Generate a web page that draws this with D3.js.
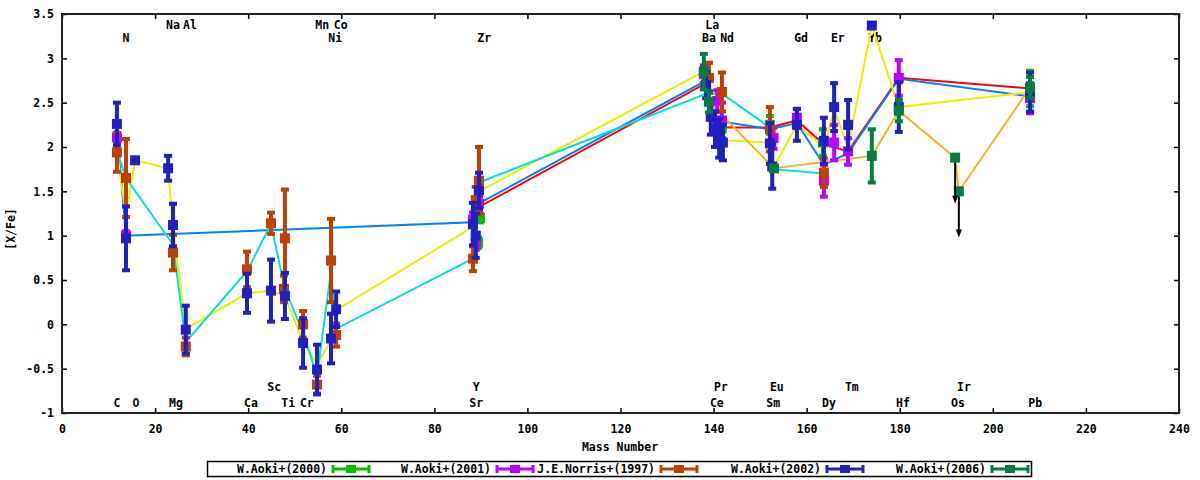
<!DOCTYPE html>
<html>
<head>
<meta charset="utf-8">
<script src="https://cdn.jsdelivr.net/npm/d3@7"></script>
<style>
  body { margin: 0; background: #fff; }
  text { font-family: "DejaVu Sans Mono", monospace; font-weight: bold; font-size: 11.5px; fill: #000; }
</style>
</head>
<body>
<div id="chart"></div>
<script>
// ---- data: [mass, [X/Fe], error] ----
const aoki2000 = [[89.8, 1.2, 0.05], [89.4, 0.92, 0.06], [141.8, 2.22, 0.05], [152.1, 2.25, 0.1],
    [163.5, 2.05, 0.15], [208.0, 2.66, 0.2]];
const aoki2001 = [[11.8, 2.11, 0.05], [13.75, 1.0, 0.05], [89.6, 1.36, 0.08], [88.3, 1.18, 0.08],
    [88.9, 0.92, 0.08], [137.9, 2.82, 0.1], [140.8, 2.52, 0.12], [141.8, 2.3, 0.2], [152.9, 2.1, 0.12],
    [157.9, 2.33, 0.1], [163.7, 1.62, 0.18], [165.9, 2.05, 0.2], [168.9, 1.95, 0.15],
    [179.8, 2.78, 0.2], [208.0, 2.55, 0.17]];
const norris1997 = [[11.8, 1.94, 0.22], [13.75, 1.65, 0.44], [23.85, 0.81, 0.2], [26.6, -0.25, 0.1],
    [39.75, 0.62, 0.2], [44.9, 1.14, 0.12], [47.9, 0.97, 0.55], [47.7, 0.4, 0.15], [51.8, 0.0, 0.15],
    [54.8, -0.68, 0.1], [57.8, 0.72, 0.47], [58.9, -0.12, 0.13], [88.3, 0.74, 0.14], [88.9, 1.4, 0.15],
    [89.6, 1.62, 0.38], [139.0, 2.78, 0.17], [141.8, 2.62, 0.22], [152.1, 2.2, 0.25], [163.7, 1.71, 0.16]];
const aoki2002 = [[11.8, 2.26, 0.24], [13.75, 0.97, 0.36], [15.7, 1.85, 0], [22.8, 1.76, 0.14],
    [23.85, 1.12, 0.24], [26.6, -0.06, 0.27], [39.75, 0.35, 0.22], [44.9, 0.38, 0.35], [47.9, 0.32, 0.26],
    [51.8, -0.21, 0.28], [54.8, -0.51, 0.28], [57.8, -0.16, 0.28], [58.9, 0.17, 0.2],
    [88.3, 1.13, 0.24], [88.9, 1.0, 0.25], [89.6, 1.51, 0.2],
    [138.4, 2.7, 0.15], [139.4, 2.34, 0.2], [140.3, 2.2, 0.2], [141.2, 2.1, 0.22], [142.0, 2.05, 0.2],
    [152.1, 2.04, 0.23], [152.6, 1.78, 0.25], [157.9, 2.25, 0.18], [163.7, 2.07, 0.26],
    [165.9, 2.45, 0.27], [168.9, 2.25, 0.28], [174.0, 3.37, 0], [179.8, 2.45, 0.28], [208.0, 2.62, 0.22]];
const aoki2006 = [[137.9, 2.85, 0.2], [139.0, 2.51, 0.12], [152.98, 1.76, 0], [174.0, 1.9, 0.3],
    [179.8, 2.41, 0.12], [208.0, 2.67, 0.12]];
// upper limits (Os, Ir)
const aoki2006Limits = [[191.9, 1.88], [192.7, 1.5]];

// ---- connecting lines: [mass, [X/Fe]] ----
const lineRed = [[89.8, 1.33], [138.4, 2.72], [140.3, 2.22], [152.1, 2.22], [157.9, 2.3], [163.7, 2.03],
    [168.9, 1.95], [179.8, 2.78], [208.0, 2.66]];
const lineBlue = [[11.8, 2.2], [13.75, 1.0], [88.3, 1.15], [89.8, 1.37], [138.4, 2.75], [140.3, 2.3],
    [152.1, 2.2], [157.9, 2.27], [163.7, 1.8], [168.9, 1.93], [179.8, 2.77], [208.0, 2.57]];
const lineYellow = [[11.8, 1.95], [13.75, 1.22], [15.7, 1.85], [22.8, 1.76], [23.85, 1.1], [26.6, -0.05],
    [39.75, 0.35], [44.9, 0.38], [47.9, 0.32], [51.8, -0.2], [54.8, -0.45], [57.8, -0.18], [58.9, 0.16],
    [88.3, 1.1], [89.6, 1.5], [137.9, 2.85], [140.3, 2.08], [152.1, 2.05], [152.98, 1.78], [157.9, 2.25],
    [163.7, 2.0], [165.9, 2.42], [168.9, 2.0], [174.0, 3.37], [179.8, 2.45], [208.0, 2.62]];
const lineCyan = [[11.8, 1.95], [13.75, 1.65], [23.85, 0.9], [26.6, -0.2], [39.75, 0.6], [44.9, 1.13],
    [47.9, 0.4], [51.8, -0.1], [54.8, -0.58], [57.8, 0.6], [58.9, -0.05], [88.3, 0.74], [89.6, 1.6],
    [138.4, 2.6], [141.8, 2.6], [152.1, 2.22], [153.0, 1.75], [163.7, 1.7]];
const lineOrange = [[139.0, 2.51], [152.98, 1.76], [163.7, 1.83], [174.0, 1.9], [179.8, 2.41],
    [191.9, 1.88], [192.7, 1.5], [208.0, 2.67]];

// ---- element labels: [name, mass] ----
const labelsTop1 = [["Na", 23.85], ["Al", 27.5], ["Mn", 55.9], ["Co", 59.9], ["La", 139.7]];
const labelsTop2 = [["N", 13.75], ["Ni", 58.7], ["Zr", 90.7], ["Ba", 139.0], ["Nd", 142.9], ["Gd", 158.8],
    ["Er", 166.7], ["Yb", 174.7]];
const labelsBot1 = [["Sc", 45.6], ["Y", 89.0], ["Pr", 141.6], ["Eu", 153.6], ["Tm", 169.7], ["Ir", 193.8]];
const labelsBot2 = [["C", 11.8], ["O", 15.9], ["Mg", 24.5], ["Ca", 40.6], ["Ti", 48.6], ["Cr", 52.6],
    ["Sr", 89.0], ["Ce", 140.7], ["Sm", 152.8], ["Dy", 164.8], ["Hf", 180.7], ["Os", 192.5], ["Pb", 209.1]];

const xTicks = d3.range(0, 241, 20);
const yTicks = [-1, -0.5, 0, 0.5, 1, 1.5, 2, 2.5, 3, 3.5];

const seriesNames = ["W.Aoki+(2000)", "W.Aoki+(2001)", "J.E.Norris+(1997)", "W.Aoki+(2002)", "W.Aoki+(2006)"];
const seriesColors = ["#00c000", "#c000ff", "#c04000", "#2020c0", "#008040"];

const width = 1200, height = 480;
const svg = d3.select("#chart").append("svg").attr("width", width).attr("height", height);

const x = d3.scaleLinear().domain([0, 240]).range([62, 1179]);
const y = d3.scaleLinear().domain([-1, 3.5]).range([413, 14]);

// axes (ticks inward, mirrored like gnuplot)
svg.append("g").attr("transform", "translate(0,413)")
    .call(d3.axisBottom(x).tickValues(xTicks).tickSize(-5).tickPadding(12).tickFormat(d3.format("d")))
    .call(g => g.select(".domain").remove());
svg.append("g").attr("transform", "translate(0,14)")
    .call(d3.axisTop(x).tickValues(xTicks).tickSize(-5).tickFormat(""))
    .call(g => g.select(".domain").remove());
svg.append("g").attr("transform", "translate(62,0)")
    .call(d3.axisLeft(y).tickValues(yTicks).tickSize(-5).tickPadding(8).tickFormat(d => String(d)))
    .call(g => g.select(".domain").remove());
svg.append("g").attr("transform", "translate(1179,0)")
    .call(d3.axisRight(y).tickValues(yTicks).tickSize(-5).tickFormat(""))
    .call(g => g.select(".domain").remove());
svg.selectAll(".tick line").attr("stroke", "#000").attr("stroke-width", 1.5);
svg.selectAll(".tick text").attr("fill", "#000");
svg.selectAll("g").attr("font-family", null).attr("font-size", null);

// axis titles
svg.append("text").attr("x", 620).attr("y", 451).attr("text-anchor", "middle").text("Mass Number");
svg.append("text").attr("transform", "translate(15,229) rotate(-90)").attr("text-anchor", "middle").text("[X/Fe]");

// element labels
const lab = svg.append("g");
[[labelsTop1, 29], [labelsTop2, 42], [labelsBot1, 391], [labelsBot2, 407]].forEach(([arr, yy]) => {
    lab.selectAll(null).data(arr).enter().append("text")
        .attr("x", d => x(d[1])).attr("y", yy).attr("text-anchor", "middle").text(d => d[0]);
});

// connecting lines
const line = d3.line().x(d => x(d[0])).y(d => y(d[1]));
[[lineRed, "#ff0000"], [lineBlue, "#0080ff"], [lineYellow, "#eeee00"], [lineCyan, "#00e0e0"], [lineOrange, "#ffb020"]]
    .forEach(([data, col]) => {
        svg.append("path").datum(data).attr("d", line).attr("fill", "none")
            .attr("stroke", col).attr("stroke-width", 2);
    });

// error-bar points
function drawSeries(data, col) {
    const g = svg.append("g");
    const withErr = data.filter(d => d[2] > 0);
    g.selectAll(".bar").data(withErr).enter().append("line")
        .attr("x1", d => x(d[0])).attr("x2", d => x(d[0]))
        .attr("y1", d => y(d[1] + d[2])).attr("y2", d => y(d[1] - d[2]))
        .attr("stroke", col).attr("stroke-width", 4);
    [1, -1].forEach(s => {
        g.selectAll(null).data(withErr).enter().append("line")
            .attr("x1", d => x(d[0]) - 4).attr("x2", d => x(d[0]) + 4)
            .attr("y1", d => y(d[1] + s * d[2])).attr("y2", d => y(d[1] + s * d[2]))
            .attr("stroke", col).attr("stroke-width", 4);
    });
    g.selectAll("rect").data(data).enter().append("rect")
        .attr("x", d => x(d[0]) - 5).attr("y", d => y(d[1]) - 5)
        .attr("width", 10).attr("height", 10).attr("fill", col);
}
drawSeries(aoki2000, seriesColors[0]);
drawSeries(aoki2001, seriesColors[1]);
drawSeries(norris1997, seriesColors[2]);
drawSeries(aoki2002, seriesColors[3]);
drawSeries(aoki2006.concat(aoki2006Limits.map(d => [d[0], d[1], 0])), seriesColors[4]);

// upper-limit arrows
const arr = svg.append("g");
aoki2006Limits.forEach(d => {
    const px = x(d[0]), py = y(d[1]), end = y(d[1] - 0.52);
    arr.append("line").attr("x1", px).attr("x2", px).attr("y1", py + 5).attr("y2", end - 4)
        .attr("stroke", "#000").attr("stroke-width", 2);
    arr.append("path").attr("d", `M${px - 3},${end - 8}L${px + 3},${end - 8}L${px},${end}Z`).attr("fill", "#000");
});

// frame
svg.append("rect").attr("x", 62).attr("y", 14).attr("width", 1117).attr("height", 399)
    .attr("fill", "none").attr("stroke", "#222").attr("stroke-width", 2);

// legend
const leg = svg.append("g");
leg.append("rect").attr("x", 207.5).attr("y", 461.5).attr("width", 824).attr("height", 15)
    .attr("fill", "none").attr("stroke", "#000").attr("stroke-width", 1.5);
const legEnds = [327, 491, 655, 821, 986];
seriesNames.forEach((name, i) => {
    const ex = legEnds[i], cy = 469, col = seriesColors[i];
    leg.append("text").attr("x", ex).attr("y", cy + 4).attr("text-anchor", "end").text(name);
    leg.append("line").attr("x1", ex + 5).attr("x2", ex + 43).attr("y1", cy).attr("y2", cy)
        .attr("stroke", col).attr("stroke-width", 3);
    [ex + 6, ex + 42].forEach(cx => leg.append("line").attr("x1", cx).attr("x2", cx)
        .attr("y1", cy - 4).attr("y2", cy + 4).attr("stroke", col).attr("stroke-width", 3));
    leg.append("rect").attr("x", ex + 19).attr("y", cy - 4).attr("width", 10).attr("height", 8).attr("fill", col);
});
</script>
</body>
</html>
